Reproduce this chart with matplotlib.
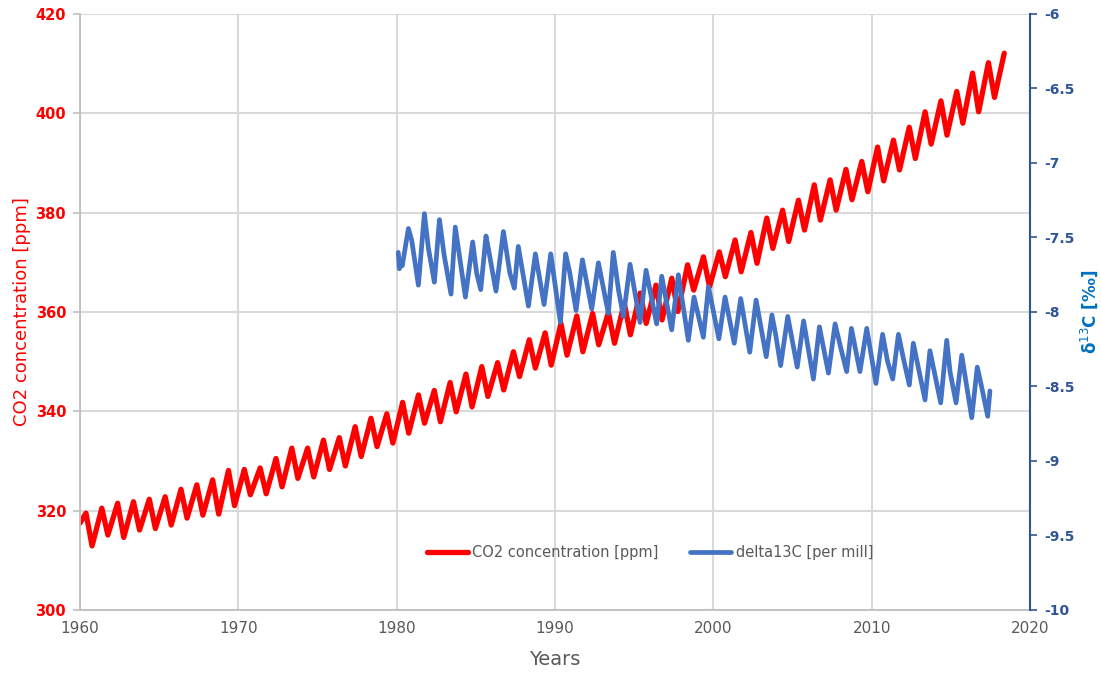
import matplotlib
matplotlib.use("Agg")
import matplotlib.pyplot as plt
from matplotlib.ticker import MultipleLocator, FuncFormatter

plt.rcParams["axes.unicode_minus"] = False
plt.rcParams["font.family"] = ["DejaVu Sans"]

# Mauna Loa CO2: yearly spring maximum and autumn minimum (ppm)
co2_years = list(range(1960, 2019))
co2_peak = [319.5, 320.5, 321.5, 321.8, 322.3, 322.8, 324.3, 325.2, 326.2, 328.1,
            328.3, 328.6, 330.5, 332.6, 332.6, 334.2, 334.7, 336.9, 338.6, 339.5,
            341.8, 343.3, 344.2, 345.8, 347.5, 349.0, 349.8, 352.0, 354.4, 355.8,
            357.7, 359.2, 359.7, 359.9, 361.8, 363.8, 365.4, 366.8, 369.5, 371.1,
            372.1, 374.5, 376.0, 378.9, 380.5, 382.5, 385.6, 386.6, 388.7, 390.3,
            393.2, 394.6, 397.2, 400.3, 402.5, 404.4, 408.1, 410.2, 412.1]
co2_trough = [312.9, 315.1, 314.6, 316.1, 316.4, 317.1, 318.5, 319.1, 319.3, 321.0,
              323.2, 323.4, 324.8, 326.5, 326.8, 328.3, 329.0, 330.9, 332.9, 333.6,
              335.6, 337.6, 337.9, 339.9, 340.9, 343.0, 344.3, 347.0, 348.7, 349.3,
              351.3, 352.0, 353.4, 353.7, 355.4, 357.7, 358.4, 360.1, 364.4, 365.1,
              367.1, 368.1, 369.8, 372.8, 374.2, 376.5, 378.5, 380.5, 382.6, 384.2,
              386.4, 388.6, 390.9, 393.8, 395.6, 398.0, 400.3, 403.2]
co2_start = 317.5
peak_month = 5      # May
trough_month = 9.6  # late September / early October

# delta13C record (per mill)
d13c_dates = [1980.10, 1980.17, 1980.27, 1980.35, 1980.74, 1980.95, 1981.37, 1981.75,
              1982.00, 1982.38, 1982.70, 1983.00, 1983.43, 1983.70, 1984.00, 1984.34,
              1984.80, 1985.05, 1985.31, 1985.64, 1985.80, 1986.27, 1986.74, 1987.15,
              1987.43, 1987.68, 1988.32, 1988.76, 1989.31, 1989.73, 1990.34, 1990.67,
              1990.92, 1991.33, 1991.73, 1992.32, 1992.74, 1993.37, 1993.68, 1994.02,
              1994.32, 1994.74, 1995.37, 1995.75, 1996.42, 1996.74, 1997.37, 1997.79,
              1998.42, 1998.78, 1999.37, 1999.69, 2000.35, 2000.74, 2001.32, 2001.73,
              2002.30, 2002.70, 2003.34, 2003.70, 2003.95, 2004.25, 2004.70, 2005.30,
              2005.70, 2006.32, 2006.70, 2007.27, 2007.69, 2008.00, 2008.42, 2008.72,
              2009.26, 2009.69, 2010.27, 2010.69, 2011.00, 2011.33, 2011.69, 2012.00,
              2012.38, 2012.63, 2013.37, 2013.68, 2014.36, 2014.74, 2014.95, 2015.33,
              2015.69, 2016.32, 2016.67, 2016.90, 2017.33, 2017.47]
d13c_values = [-7.60, -7.71, -7.66, -7.69, -7.44, -7.52, -7.82, -7.34,
               -7.57, -7.80, -7.38, -7.62, -7.88, -7.43, -7.65, -7.90,
               -7.53, -7.74, -7.85, -7.49, -7.58, -7.86, -7.46, -7.74,
               -7.84, -7.56, -7.96, -7.61, -7.95, -7.61, -8.07, -7.61,
               -7.73, -7.99, -7.65, -7.98, -7.67, -8.01, -7.60, -7.86,
               -8.03, -7.68, -8.07, -7.72, -8.08, -7.76, -8.12, -7.75,
               -8.19, -7.90, -8.17, -7.83, -8.18, -7.90, -8.21, -7.91,
               -8.27, -7.92, -8.30, -8.02, -8.16, -8.36, -8.03, -8.37,
               -8.06, -8.45, -8.10, -8.41, -8.08, -8.22, -8.40, -8.11,
               -8.40, -8.11, -8.48, -8.15, -8.33, -8.45, -8.15, -8.31,
               -8.49, -8.21, -8.59, -8.26, -8.61, -8.19, -8.40, -8.61,
               -8.29, -8.71, -8.37, -8.48, -8.70, -8.53]

RED = "#FF0000"
BLUE = "#4472C4"
NAVY = "#2F5597"
GRID = "#D9D9D9"
GREY_TXT = "#595959"

# Build the CO2 time series: start, then alternating maxima and minima
co2_t = [co2_years[0]]
co2_v = [co2_start]
for i, yr in enumerate(co2_years):
    co2_t.append(yr + (peak_month - 0.5) / 12)
    co2_v.append(co2_peak[i])
    if i < len(co2_trough):
        co2_t.append(yr + (trough_month - 0.5) / 12)
        co2_v.append(co2_trough[i])

fig = plt.figure(figsize=(11.01, 6.75), dpi=100)
ax = fig.add_axes([0.0727, 0.0963, 0.8628, 0.883])
ax2 = ax.twinx()

l1, = ax.plot(co2_t, co2_v, color=RED, lw=3.8, solid_joinstyle="round",
              solid_capstyle="round", label="CO2 concentration [ppm]")
l2, = ax2.plot(d13c_dates, d13c_values, color=BLUE, lw=3.4, solid_joinstyle="round",
               solid_capstyle="round", label="delta13C [per mill]")

ax.set_xlim(1960, 2020)
ax.set_ylim(300, 420)
ax2.set_ylim(-10, -6)
ax.xaxis.set_major_locator(MultipleLocator(10))
ax.yaxis.set_major_locator(MultipleLocator(20))
ax2.yaxis.set_major_locator(MultipleLocator(0.5))
ax2.yaxis.set_major_formatter(FuncFormatter(lambda v, p: f"{v:g}"))

ax.grid(True, color=GRID, lw=1.5)
ax.set_axisbelow(True)

ax.spines["top"].set_visible(False)
ax2.spines["top"].set_visible(False)
ax.spines["right"].set_visible(False)
ax.spines["left"].set_color("#BFBFBF")
ax.spines["bottom"].set_color("#BFBFBF")
ax.spines["left"].set_linewidth(1.3)
ax.spines["bottom"].set_linewidth(1.3)
ax2.spines["left"].set_visible(False)
ax2.spines["bottom"].set_visible(False)
ax2.spines["right"].set_color(NAVY)
ax2.spines["right"].set_linewidth(1.5)

ax.tick_params(axis="x", length=0, pad=8, labelsize=11, labelcolor=GREY_TXT)
ax.tick_params(axis="y", length=5, width=1.2, color="#BFBFBF", pad=5,
               labelsize=10.5, labelcolor=RED)
for t in ax.get_yticklabels():
    t.set_fontweight("bold")
ax2.tick_params(axis="y", length=5, width=1.2, color=NAVY, pad=5,
                labelsize=10, labelcolor=NAVY)
for t in ax2.get_yticklabels():
    t.set_fontweight("bold")

ax.set_xlabel("Years", fontsize=14, color=GREY_TXT, labelpad=10)
ax.set_ylabel("CO2 concentration [ppm]", fontsize=13, color=RED, labelpad=3)
ax2.set_ylabel("δ$^{13}$C [‰]", fontsize=12, color="#0070C0",
               fontweight="bold", labelpad=3)

ax2.legend([l1, l2], [l1.get_label(), l2.get_label()], loc="center",
           bbox_to_anchor=(0.6, 0.097), ncol=2, frameon=False,
           fontsize=10.5, handlelength=2.8, columnspacing=2.2,
           handletextpad=0.3, labelcolor=GREY_TXT)

fig.savefig("out.png", dpi=100)
